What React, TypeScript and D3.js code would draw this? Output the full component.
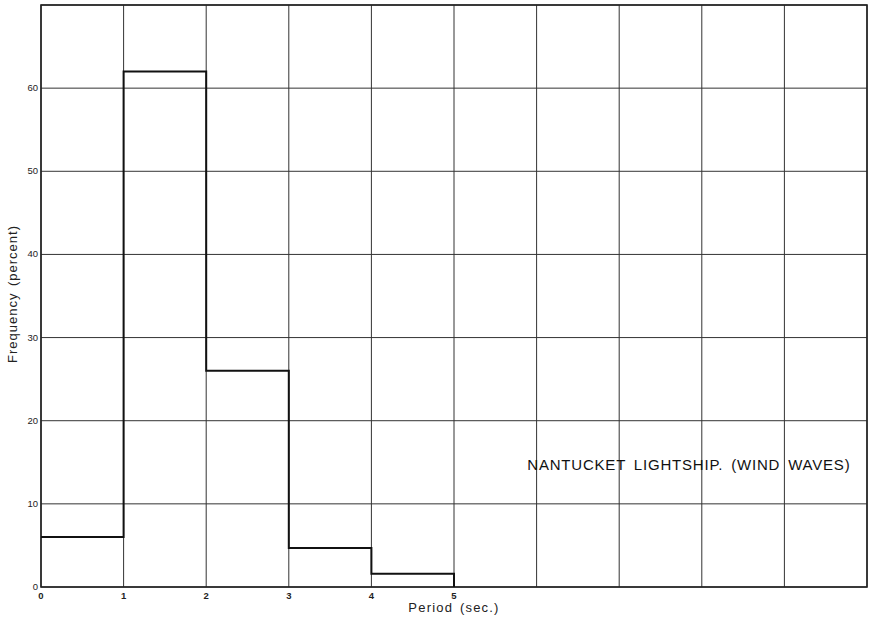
import * as d3 from "d3";

const binStarts = [0, 1, 2, 3, 4];
const frequency = [6, 62, 26, 4.7, 1.6];
const xTicks = [0, 1, 2, 3, 4, 5, 6, 7, 8, 9, 10];
const xTickLabels = ["0", "1", "2", "3", "4", "5"];
const yTicks = [0, 10, 20, 30, 40, 50, 60, 70];
const yTickLabels = ["0", "10", "20", "30", "40", "50", "60"];

const W = 873;
const H = 618;
const m = { left: 41, top: 5, right: 6, bottom: 31 };

export default function App() {
  const x = d3.scaleLinear().domain([0, 10]).range([m.left, W - m.right]);
  const y = d3.scaleLinear().domain([0, 70]).range([H - m.bottom, m.top]);

  // step outline of the histogram
  const pts: [number, number][] = [];
  binStarts.forEach((b, i) => {
    pts.push([b, frequency[i]]);
    pts.push([b + 1, frequency[i]]);
  });
  pts.push([binStarts[binStarts.length - 1] + 1, 0]);
  const line = d3.line<[number, number]>().x((d) => x(d[0])).y((d) => y(d[1]));

  const font = "Helvetica, Arial, 'Liberation Sans', sans-serif";

  return (
    <svg width={W} height={H} style={{ position: "absolute", left: 0, top: 0, background: "#fff" }}>
      {xTicks.map((t) => (
        <line key={"gx" + t} x1={x(t)} x2={x(t)} y1={y(0)} y2={y(70)} stroke="#333" strokeWidth={1} />
      ))}
      {yTicks.map((t) => (
        <line key={"gy" + t} x1={x(0)} x2={x(10)} y1={y(t)} y2={y(t)} stroke="#333" strokeWidth={1} />
      ))}
      <rect x={x(0)} y={y(70)} width={x(10) - x(0)} height={y(0) - y(70)} fill="none" stroke="#222" strokeWidth={1.6} />
      <path d={line(pts) || ""} fill="none" stroke="#111" strokeWidth={2} />

      {xTickLabels.map((l, i) => (
        <text key={"xl" + l} x={x(i)} y={y(0) + 12} textAnchor="middle" fontSize={9.5} fontFamily={font} fontWeight="bold" fill="#222">
          {l}
        </text>
      ))}
      {yTickLabels.map((l, i) => (
        <text key={"yl" + l} x={x(0) - 3} y={y(i * 10) + 3} textAnchor="end" fontSize={9.5} fontFamily={font} fill="#222">
          {l}
        </text>
      ))}

      <text x={x(5)} y={H - 6} textAnchor="middle" fontSize={13} fontFamily={font} letterSpacing={1.2} wordSpacing={2} fill="#222">
        Period (sec.)
      </text>
      <text
        transform={`translate(17, ${y(35) - 2}) rotate(-90)`}
        textAnchor="middle"
        fontSize={13}
        fontFamily={font}
        letterSpacing={1}
        wordSpacing={2}
        fill="#222"
      >
        Frequency (percent)
      </text>
      <text x={x(9.8)} y={y(14.3) + 2} textAnchor="end" fontSize={15} fontFamily={font} letterSpacing={0.8} wordSpacing={3} fill="#111">
        NANTUCKET LIGHTSHIP. (WIND WAVES)
      </text>
    </svg>
  );
}
